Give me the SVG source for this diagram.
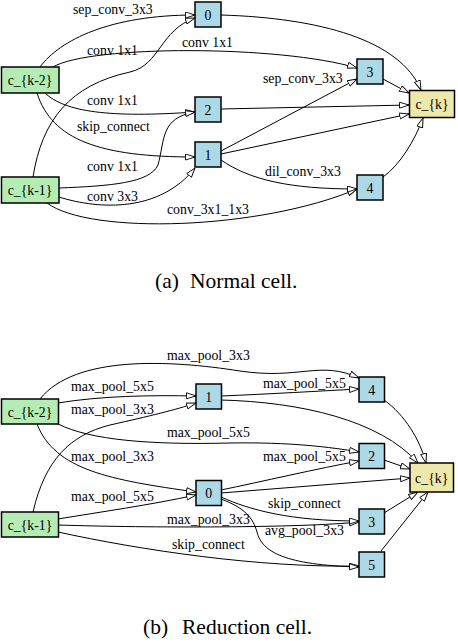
<svg xmlns="http://www.w3.org/2000/svg" width="458" height="642" viewBox="0 0 458 642" font-family="'Liberation Serif', 'Times New Roman', 'DejaVu Serif', serif">
<style>
text{font-family:'Liberation Serif','Times New Roman','DejaVu Serif',serif;font-size:13.8px;fill:#000}
.n{text-anchor:middle}
.cap{font-size:21.5px}
.in rect{fill:#b4ecb4;stroke:#000;stroke-width:1.5}
.op rect{fill:#add8e6;stroke:#000;stroke-width:1.5}
.out rect{fill:#eee8aa;stroke:#000;stroke-width:1.5}
.e path{fill:none;stroke:#000;stroke-width:1;marker-end:url(#ah)}
</style>
<defs>
<marker id="ah" markerUnits="userSpaceOnUse" markerWidth="12" markerHeight="9" refX="10" refY="3.5" orient="auto">
<path d="M0.5,0.5 L10,3.5 L0.5,6.5 z" fill="#fff" stroke="#000" stroke-width="0.9"/>
</marker>
</defs>

<!-- Normal cell connectors -->
<g id="normal-edges" class="e">
<path d="M40,67 C60,40 110,15 195,15"/>
<path d="M53,67 C90,45 280,45 357,68"/>
<path d="M33,177 C42,120 70,85 130,72 C160,65 160,30 195,18"/>
<path d="M45,93 C65,112 110,118 195,112"/>
<path d="M37,93 C52,140 100,157 195,157"/>
<path d="M59,188 C110,186 150,183 158,165 C165,140 160,118 195,112"/>
<path d="M59,197 C100,210 160,212 195,168"/>
<path d="M47,203 C90,235 260,230 357,189"/>
<path d="M221,151 L357,79"/>
<path d="M221,154 L409,114"/>
<path d="M221,160 C250,180 290,189 357,189"/>
<path d="M221,109 L409,105"/>
<path d="M221,15 C320,18 400,40 421,90"/>
<path d="M383,79 L409,93"/>
<path d="M383,177 C400,165 415,140 423,118"/>
</g>
<g id="normal-labels">
<text x="73" y="13.5">sep_conv_3x3</text>
<text x="182" y="46.5">conv 1x1</text>
<text x="87" y="55">conv 1x1</text>
<text x="87" y="105">conv 1x1</text>
<text x="77" y="131">skip_connect</text>
<text x="87" y="171">conv 1x1</text>
<text x="87" y="200.5">conv 3x3</text>
<text x="167" y="213.5">conv_3x1_1x3</text>
<text x="263" y="82.5">sep_conv_3x3</text>
<text x="265" y="176">dil_conv_3x3</text>
</g>
<g id="n-ck2" class="in"><rect x="1.5" y="67" width="57.5" height="26"/><text class="n" x="30" y="85">c_{k-2}</text></g>
<g id="n-ck1" class="in"><rect x="1.5" y="177" width="57.5" height="26"/><text class="n" x="30" y="195">c_{k-1}</text></g>
<g id="n-0" class="op"><rect x="195" y="2" width="26" height="25"/><text class="n" x="208" y="19.5">0</text></g>
<g id="n-2" class="op"><rect x="195" y="97" width="26" height="25"/><text class="n" x="208" y="114.5">2</text></g>
<g id="n-1" class="op"><rect x="195" y="142" width="26" height="25"/><text class="n" x="208" y="159.5">1</text></g>
<g id="n-3" class="op"><rect x="357" y="59" width="26" height="25"/><text class="n" x="370" y="76.5">3</text></g>
<g id="n-4" class="op"><rect x="357" y="175" width="26" height="25"/><text class="n" x="370" y="192.5">4</text></g>
<g id="n-ck" class="out"><rect x="409.5" y="90.5" width="45" height="27"/><text class="n" x="432" y="109">c_{k}</text></g>
<text class="cap" x="155" y="288">(a)</text>
<text class="cap" x="190" y="288">Normal cell.</text>

<!-- Reduction cell connectors -->
<g id="reduction-edges" class="e">
<path d="M40,399 C75,355 170,360 240,371 C300,380 320,360 359,378"/>
<path d="M58,403 C100,396 150,395 196,396"/>
<path d="M58,424 C90,440 150,445 230,443 C290,442 330,447 359,452"/>
<path d="M37,424 C55,470 110,480 196,492"/>
<path d="M33,512 C45,460 70,435 110,425 C150,416 175,410 196,403"/>
<path d="M58,519 C100,512 150,505 196,495"/>
<path d="M58,525 C150,528 300,528 359,522"/>
<path d="M58,532 C140,550 260,568 359,566"/>
<path d="M221,490 C260,482 320,468 359,461"/>
<path d="M221,493 L410,478"/>
<path d="M221,497 C250,510 290,521 359,521"/>
<path d="M221,499 C245,508 253,518 257,532 C262,552 285,565 359,567"/>
<path d="M221,396 C270,394 320,391 359,389"/>
<path d="M221,400 C300,402 380,420 418,463"/>
<path d="M384,400 C405,415 420,440 426,463"/>
<path d="M384,460 L410,469"/>
<path d="M384,513 L418,492"/>
<path d="M381,551 L428,492"/>
</g>
<g id="reduction-labels">
<text x="167" y="359.5">max_pool_3x3</text>
<text x="71" y="391">max_pool_5x5</text>
<text x="71" y="414">max_pool_3x3</text>
<text x="167" y="437">max_pool_5x5</text>
<text x="263" y="388">max_pool_5x5</text>
<text x="71" y="461">max_pool_3x3</text>
<text x="71" y="501">max_pool_5x5</text>
<text x="263" y="461">max_pool_5x5</text>
<text x="268" y="508">skip_connect</text>
<text x="167" y="524">max_pool_3x3</text>
<text x="265" y="535">avg_pool_3x3</text>
<text x="172" y="549">skip_connect</text>
</g>
<g id="r-ck2" class="in"><rect x="1.5" y="399" width="57" height="25"/><text class="n" x="30" y="416.5">c_{k-2}</text></g>
<g id="r-ck1" class="in"><rect x="1.5" y="512" width="57" height="25"/><text class="n" x="30" y="529.5">c_{k-1}</text></g>
<g id="r-1" class="op"><rect x="196" y="384" width="25.5" height="25"/><text class="n" x="208.7" y="401.5">1</text></g>
<g id="r-0" class="op"><rect x="196" y="480.5" width="25.5" height="25"/><text class="n" x="208.7" y="498">0</text></g>
<g id="r-4" class="op"><rect x="359" y="377" width="25.5" height="25"/><text class="n" x="371.7" y="394.5">4</text></g>
<g id="r-2" class="op"><rect x="359" y="443.5" width="25.5" height="25"/><text class="n" x="371.7" y="461">2</text></g>
<g id="r-3" class="op"><rect x="359" y="509" width="25.5" height="25"/><text class="n" x="371.7" y="526.5">3</text></g>
<g id="r-5" class="op"><rect x="359" y="552" width="25.5" height="25"/><text class="n" x="371.7" y="569.5">5</text></g>
<g id="r-ck" class="out"><rect x="410" y="463" width="43.5" height="29"/><text class="n" x="431.7" y="482.5">c_{k}</text></g>
<text class="cap" x="143" y="634">(b)</text>
<text class="cap" x="182" y="634">Reduction cell.</text>
</svg>
